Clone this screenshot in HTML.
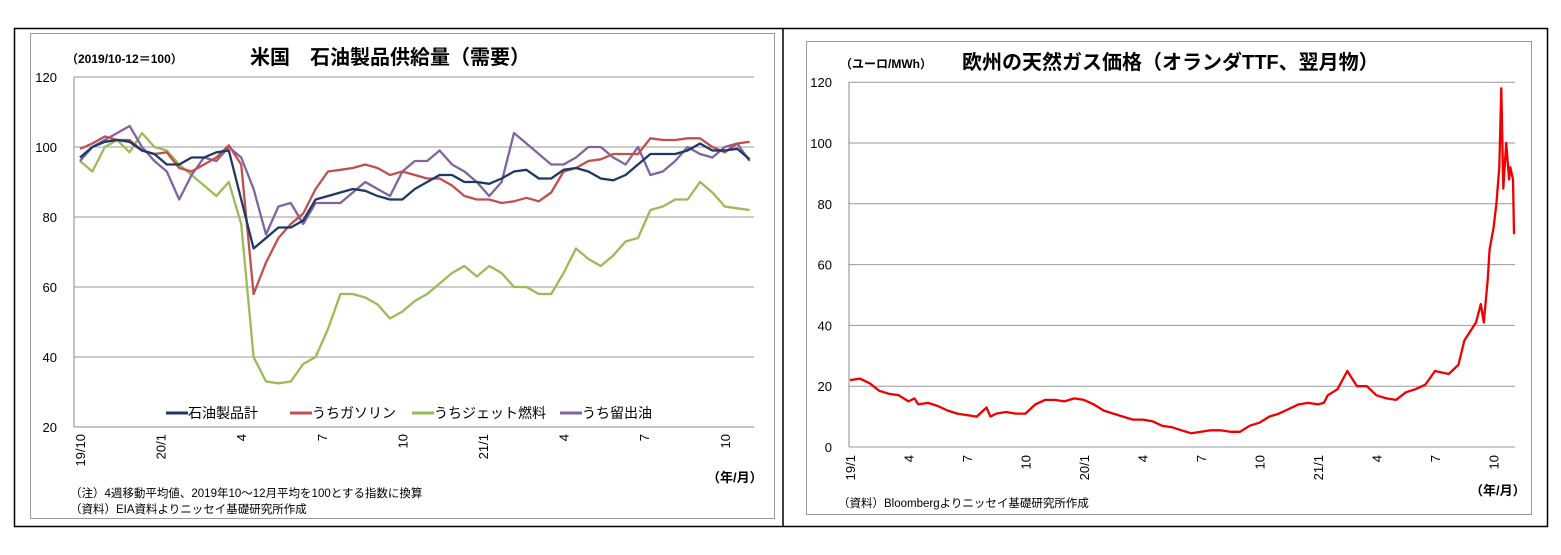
<!DOCTYPE html>
<html><head><meta charset="utf-8"><style>
body{margin:0;width:1561px;height:550px;background:#fff;overflow:hidden;font-family:"Liberation Sans","Noto Sans CJK JP",sans-serif}
svg text{font-family:"Liberation Sans","Noto Sans CJK JP",sans-serif;fill:#000}
</style></head><body>
<svg id="s" width="1561" height="550">
<rect x="14.5" y="28.5" width="1533" height="498" fill="none" stroke="#000" stroke-width="1.5"/>
<line x1="783" y1="28" x2="783" y2="527" stroke="#000" stroke-width="1.5"/>
<rect x="30.5" y="33.5" width="744" height="485" fill="none" stroke="#999"/>
<rect x="806.5" y="41.5" width="725" height="473" fill="none" stroke="#999"/>
<text x="66" y="63" font-size="12" font-weight="bold">（2019/10-12＝100）</text>
<text x="250" y="64" font-size="20" font-weight="bold">米国　石油製品供給量（需要）</text>
<text x="840" y="68" font-size="12" font-weight="bold">（ユーロ/MWh）</text>
<text x="962" y="69" font-size="20" font-weight="bold">欧州の天然ガス価格（オランダTTF、翌月物）</text>
<text x="707" y="482" font-size="13" font-weight="bold">（年/月）</text>
<text x="1470" y="495" font-size="13" font-weight="bold">（年/月）</text>
<text x="70" y="497" font-size="11.5">（注）4週移動平均値、2019年10～12月平均を100とする指数に換算</text>
<text x="70" y="513" font-size="11.5">（資料）EIA資料よりニッセイ基礎研究所作成</text>
<text x="838" y="507" font-size="11.5">（資料）Bloombergよりニッセイ基礎研究所作成</text>
<g id="L"></g><g id="R"></g>
</svg>
<script>
const weeks=[];for(let i=0;i<55;i++)weeks.push(i*2);
const total=[97,100,101.5,102,101.5,99,98,95,95,97,97,98.5,99,85,71,74,77,77,79,85,86,87,88,87.5,86,85,85,88,90,92,92,90,90,89.5,91,93,93.5,91,91,93.5,94,93,91,90.5,92,95,98,98,98,99,101,99,99,99.5,96.5];
const gasoline=[99.5,101,103,102,102,99,98,98.5,94,93,95,97,100.5,95,58,67,74,78,81,88,93,93.5,94,95,94,92,93,92,91,91,89,86,85,85,84,84.5,85.5,84.5,87,93,94,96,96.5,98,98,98,102.5,102,102,102.5,102.5,100,98.5,101,101.5];
const jet=[96,93,100,102,98.5,104,100,99,95,92,89,86,90,78,40,33,32.5,33,38,40,48,58,58,57,55,51,53,56,58,61,64,66,63,66,64,60,60,58,58,64,71,68,66,69,73,74,82,83,85,85,90,87,83,82.5,82];
const distillate=[96,100,102,104,106,100,96,93,85,92,97,96,100,97,88,75,83,84,78,84,84,84,87,90,88,86,93,96,96,99,95,93,90,86,90,104,101,98,95,95,97,100,100,97,95,100,92,93,96,100,98,97,100,101,96];
const leftTicks=[20,40,60,80,100,120];
const leftXLabels=["19/10","20/1","4","7","10","21/1","4","7","10"];
const leftXWeeks=[0,13,26,39,52,65,78,91,104];
const ttfMonths=[0,0.5,1,1.5,2,2.5,3,3.3,3.5,4,4.5,5,5.5,6,6.5,7,7.2,7.5,8,8.5,9,9.5,10,10.5,11,11.5,12,12.5,13,13.5,14,14.5,15,15.5,16,16.5,17,17.5,18,18.5,19,19.5,20,20.5,21,21.5,22,22.5,23,23.5,24,24.3,24.5,25,25.5,26,26.5,27,27.5,28,28.5,29,29.5,30,30.7,31.2,31.5,32.1,32.35,32.5,32.7,32.8,33,33.15,33.3,33.4,33.5,33.65,33.8,33.86,34,34.05];
const ttf=[22,22.5,21,18.5,17.5,17,15,16,14,14.5,13.5,12,11,10.5,10,13,10,11,11.5,11,11,14,15.5,15.5,15,16,15.5,14,12,11,10,9,9,8.5,7,6.5,5.5,4.5,5,5.5,5.5,5,5,7,8,10,11,12.5,14,14.5,14,14.5,17,19,25,20,20,17,16,15.5,18,19,20.5,25,24,27,35,41,47,41,55,65,72,80,92,118,85,100,88,92,88,70,66,78,73];
const rightTicks=[0,20,40,60,80,100,120];
const rightXLabels=["19/1","4","7","10","20/1","4","7","10","21/1","4","7","10"];
const rightXMonths=[0,3,6,9,12,15,18,21,24,27,30,33];
const NS="http://www.w3.org/2000/svg";
function mk(p,t,a){const e=document.createElementNS(NS,t);for(const k in a)e.setAttribute(k,a[k]);p.appendChild(e);return e;}
// left axes
const lx=w=>80+6.2*w, ly=v=>427-(v-20)*3.5;
const L=document.getElementById('L');
leftTicks.forEach(v=>{const g=mk(L,'line',{x1:74,x2:754,y1:ly(v),y2:ly(v),stroke:v===20?'#888':'#999','stroke-width':1});


const t=mk(L,'text',{x:57,y:ly(v)+5,'font-size':13,'text-anchor':'end'});t.textContent=v;

});
const ax=mk(L,'line',{x1:74,x2:74,y1:77,y2:427,stroke:'#888'});


leftXLabels.forEach((s,i)=>{const x=lx(leftXWeeks[i]);const t=mk(L,'text',{transform:`translate(${x+5},434) rotate(-90)`,'font-size':13,'text-anchor':'end'});t.textContent=s;

});
function line(p,xs,ys,fx,fy,col,w,name){const d=xs.map((x,i)=>(i?'L':'M')+fx(x).toFixed(1)+','+fy(ys[i]).toFixed(1)).join('');
const e=mk(p,'path',{d,fill:'none',stroke:col,'stroke-width':w,'stroke-linejoin':'round'});

}
line(L,weeks,jet,lx,ly,'#9bbb59',2.3,'series-jet-fuel');
line(L,weeks,distillate,lx,ly,'#8064a2',2.3,'series-distillate');
line(L,weeks,gasoline,lx,ly,'#c0504d',2.3,'series-gasoline');
line(L,weeks,total,lx,ly,'#1f3864',2.3,'series-total');
const legNames=["石油製品計","うちガソリン","うちジェット燃料","うち留出油"];
const legCols=['#1f3864','#c0504d','#9bbb59','#8064a2'];
const legX=[166,290,412,560];
legNames.forEach((s,i)=>{const l=mk(L,'line',{x1:legX[i],x2:legX[i]+22,y1:413,y2:413,stroke:legCols[i],'stroke-width':3});


const t=mk(L,'text',{x:legX[i]+22,y:418,'font-size':14});t.textContent=s;

});
// right
const rx=m=>850+19.5*m, ry=v=>447-v*3.04;
const R=document.getElementById('R');
rightTicks.forEach(v=>{const g=mk(R,'line',{x1:849,x2:1515,y1:ry(v),y2:ry(v),stroke:'#999'});


const t=mk(R,'text',{x:832,y:ry(v)+5,'font-size':13,'text-anchor':'end'});t.textContent=v;

});
const ax2=mk(R,'line',{x1:849,x2:849,y1:82,y2:447,stroke:'#888'});


rightXLabels.forEach((s,i)=>{const x=rx(rightXMonths[i]);const t=mk(R,'text',{transform:`translate(${x+5},455) rotate(-90)`,'font-size':13,'text-anchor':'end'});t.textContent=s;

});
line(R,ttfMonths,ttf,rx,ry,'#ee0000',2.3,'series-ttf-price');
</script>
</body></html>
